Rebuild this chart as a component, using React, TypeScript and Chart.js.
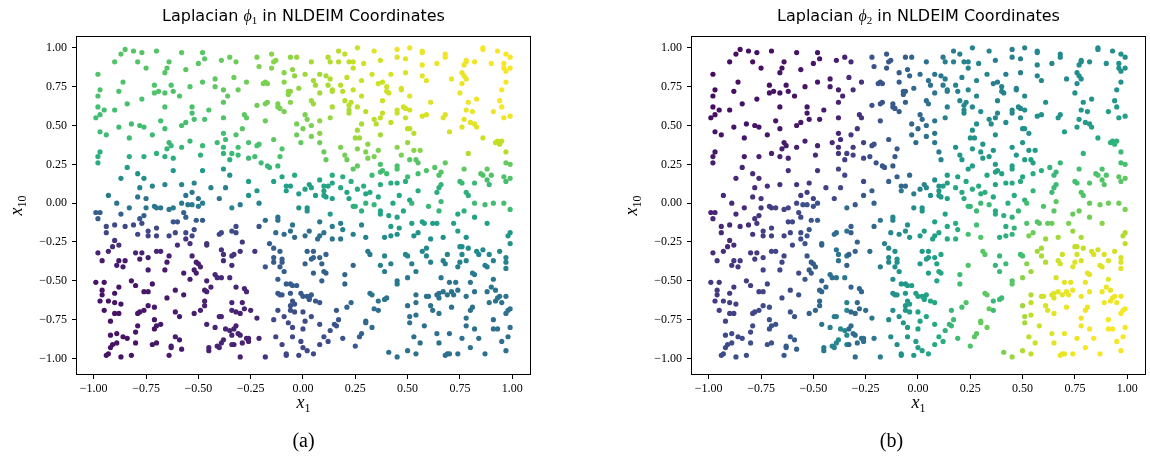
import React, { useEffect, useRef } from "react";
import { Chart, registerables } from "chart.js";

Chart.register(...registerables);

// Each sample: [x1, x10, phi1, phi2]; the eigenvector values are scaled to [0, 1].
const NORTH_WEST: number[][] = [
  [-0.85,0.99,.73,.04],[-0.87,0.96,.73,.04],[-0.81,0.98,.73,.04],[-0.77,0.97,.73,.04],[-0.70,0.98,.73,.04],[-0.58,0.97,.74,.05],[-0.48,0.97,.74,.06],[-0.47,0.93,.74,.06],[-0.90,0.91,.73,.04],[-0.79,0.91,.73,.04],[-0.64,0.91,.73,.05],[-0.65,0.87,.73,.05],[-0.66,0.84,.73,.05],[-0.75,0.87,.73,.04],[-0.56,0.86,.74,.05],[-0.50,0.90,.74,.06],[-0.39,0.92,.76,.08],[-0.35,0.94,.77,.09],[-0.98,0.83,.72,.03],[-0.86,0.78,.72,.04],[-0.71,0.76,.72,.04],[-0.63,0.76,.72,.05],[-0.54,0.75,.73,.05],[-0.48,0.78,.73,.06],[-0.42,0.80,.75,.07],[-0.42,0.75,.75,.07],[-0.97,0.73,.71,.03],[-0.98,0.69,.71,.03],[-0.88,0.72,.71,.04],[-0.69,0.72,.72,.05],[-0.71,0.71,.72,.05],[-0.66,0.71,.72,.05],[-0.62,0.72,.72,.05],[-0.59,0.69,.72,.05],[-0.38,0.73,.75,.08],[-0.36,0.69,.75,.09],[-0.38,0.65,.74,.09],[-0.77,0.67,.71,.04],[-0.84,0.64,.70,.04],[-0.98,0.62,.70,.03],[-0.95,0.60,.70,.04],[-0.90,0.60,.70,.04],[-0.66,0.62,.71,.05],[-0.53,0.62,.71,.06],[-0.45,0.60,.72,.07],[-0.38,0.55,.72,.09],[-0.99,0.55,.69,.04],[-0.97,0.57,.69,.04],[-0.53,0.58,.70,.06],[-0.52,0.54,.70,.06],[-0.56,0.52,.70,.06],[-0.47,0.54,.71,.07],[-0.68,0.53,.70,.05],[-0.88,0.49,.69,.05],[-0.82,0.51,.69,.05],[-0.78,0.50,.69,.05],[-0.76,0.49,.69,.05],[-0.58,0.50,.70,.06],[-0.66,0.48,.69,.06],[-0.97,0.46,.68,.05],[-0.94,0.44,.68,.05],[-0.72,0.44,.68,.06],[-0.83,0.42,.68,.06],[-0.38,0.45,.70,.10],[-0.64,0.39,.67,.07],[-0.63,0.37,.67,.07],[-0.65,0.35,.66,.08],[-0.54,0.40,.67,.08],[-0.58,0.36,.66,.08],[-0.48,0.37,.67,.09],[-0.41,0.39,.68,.11],[-0.37,0.41,.69,.12],[-0.38,0.36,.67,.13],[-0.97,0.33,.64,.06],[-0.98,0.30,.63,.07],[-0.98,0.26,.62,.08],[-0.83,0.30,.63,.08],[-0.76,0.30,.63,.09],[-0.70,0.32,.64,.09],[-0.66,0.30,.63,.10],[-0.62,0.29,.63,.10],[-0.49,0.31,.64,.12],[-0.38,0.32,.65,.16],[-0.35,0.28,.63,.18],[-0.84,0.23,.55,.10],[-0.62,0.21,.53,.13],[-0.48,0.21,.53,.16],[-0.38,0.22,.54,.20],[-0.35,0.18,.50,.21],[-0.79,0.19,.50,.12],[-0.76,0.16,.48,.12],[-0.87,0.16,.48,.11],[-0.72,0.11,.45,.13],[-0.66,0.12,.45,.14],[-0.78,0.10,.44,.13],[-0.58,0.12,.45,.16],[-0.52,0.13,.45,.17],[-0.44,0.10,.44,.19],[-0.37,0.10,.44,.21],[-0.93,0.05,.40,.12],[-0.79,0.04,.39,.14],[-0.75,0.03,.38,.15],[-0.56,0.05,.39,.17],[-0.53,0.07,.40,.18],[-0.50,0.03,.38,.19],[-0.40,0.03,.38,.21],
];

const NORTH: number[][] = [
  [-0.32,0.91,.78,.12],[-0.22,0.94,.80,.25],[-0.21,0.88,.80,.25],[-0.15,0.96,.82,.27],[-0.14,0.91,.82,.27],[-0.13,0.92,.82,.27],[-0.15,0.87,.82,.27],[-0.06,0.94,.83,.29],[-0.03,0.94,.84,.33],[0.04,0.91,.86,.36],[0.12,0.94,.88,.40],[0.13,0.91,.88,.42],[0.17,0.91,.89,.43],[0.17,0.98,.89,.42],[0.20,0.96,.90,.43],[0.22,0.91,.90,.44],[0.24,0.91,.91,.44],[0.26,1.00,.92,.44],[0.24,0.87,.91,.44],[0.29,0.90,.93,.45],[0.34,0.98,.95,.45],[0.33,0.83,.93,.45],
  [-0.33,0.81,.77,.12],[-0.27,0.78,.78,.14],[-0.31,0.73,.77,.13],[-0.18,0.78,.80,.26],[-0.17,0.77,.80,.26],[-0.19,0.77,.80,.25],[-0.09,0.84,.82,.29],[-0.09,0.78,.82,.29],[-0.05,0.86,.83,.31],[-0.04,0.82,.83,.33],[-0.02,0.74,.83,.34],[0.01,0.83,.85,.35],[0.08,0.83,.86,.38],[0.11,0.82,.87,.40],[0.13,0.80,.88,.42],[0.05,0.79,.86,.37],[0.06,0.76,.86,.37],[0.12,0.76,.87,.41],[0.14,0.73,.88,.43],[0.18,0.76,.89,.44],[0.19,0.72,.89,.44],[0.21,0.81,.90,.44],[0.24,0.73,.91,.45],[0.28,0.79,.92,.45],
  [-0.07,0.72,.83,.30],[-0.06,0.72,.83,.30],[-0.07,0.70,.82,.30],[0.04,0.66,.85,.36],[0.05,0.64,.85,.37],[0.08,0.71,.86,.38],[0.14,0.72,.88,.43],[0.20,0.66,.89,.45],[0.22,0.63,.89,.46],[0.23,0.65,.90,.46],[0.26,0.62,.90,.47],[0.28,0.69,.91,.46],[0.22,0.60,.87,.47],[0.22,0.58,.87,.47],
  [-0.22,0.63,.78,.24],[-0.18,0.64,.79,.26],[-0.17,0.65,.79,.26],[-0.12,0.64,.80,.28],[-0.12,0.62,.80,.28],[-0.11,0.61,.80,.28],[-0.09,0.59,.79,.29],[-0.28,0.57,.75,.14],[-0.27,0.55,.75,.15],[-0.18,0.53,.77,.25],[-0.06,0.65,.82,.30],[0.01,0.57,.80,.34],[0.02,0.54,.80,.35],[0.04,0.50,.80,.36],[-0.03,0.51,.79,.32],[0.00,0.48,.79,.34],[0.14,0.62,.87,.43],[0.13,0.55,.84,.44],[0.08,0.53,.83,.39],
  [0.30,0.59,.89,.48],[0.28,0.51,.87,.49],[0.26,0.47,.86,.50],[0.25,0.42,.85,.51],[0.27,0.42,.85,.51],[0.34,0.54,.89,.49],[-0.03,0.44,.77,.33],[0.04,0.43,.80,.37],[0.08,0.45,.82,.39],[-0.01,0.39,.75,.34],[0.08,0.39,.78,.40],[-0.32,0.44,.72,.15],[-0.29,0.48,.73,.15],[-0.14,0.41,.74,.27],[-0.31,0.36,.70,.17],[-0.26,0.39,.71,.19],[-0.22,0.37,.71,.23],[-0.21,0.38,.71,.24],
  [-0.34,0.32,.68,.18],[-0.31,0.31,.68,.19],[-0.26,0.29,.68,.21],[-0.23,0.30,.69,.24],[-0.10,0.35,.72,.29],[-0.11,0.30,.71,.29],[0.10,0.33,.77,.42],[0.11,0.28,.76,.44],[0.18,0.36,.80,.50],[0.20,0.31,.79,.52],[0.21,0.28,.78,.53],[0.26,0.35,.81,.52],[0.31,0.38,.83,.52],[0.30,0.33,.81,.53],[0.31,0.29,.80,.54],[0.34,0.30,.80,.54],[0.26,0.24,.76,.55],[0.24,0.22,.74,.55],
  [-0.20,0.26,.68,.25],[-0.17,0.24,.67,.26],[-0.16,0.23,.66,.27],[-0.12,0.24,.67,.28],[-0.10,0.17,.60,.30],[-0.04,0.18,.61,.34],[-0.26,0.14,.56,.22],[-0.14,0.14,.57,.31],[-0.08,0.11,.56,.33],[-0.06,0.11,.56,.34],[0.03,0.12,.57,.45],[0.04,0.10,.57,.46],[0.01,0.09,.56,.44],[-0.02,0.06,.55,.42],[0.08,0.15,.60,.48],[0.10,0.11,.58,.50],[0.14,0.18,.62,.55],[0.19,0.17,.63,.57],[0.14,0.13,.60,.57],[0.12,0.11,.59,.55],[0.18,0.10,.60,.60],[0.10,0.08,.57,.52],[0.10,0.05,.56,.53],[0.11,0.04,.56,.54],[0.21,0.07,.60,.61],[0.23,0.14,.63,.60],[0.29,0.11,.63,.62],[0.33,0.18,.68,.60],[0.32,0.07,.62,.63],[0.26,0.09,.61,.62],[-0.22,0.08,.52,.30],[-0.26,0.05,.50,.28],[-0.08,0.08,.55,.40],[0.06,0.05,.55,.50],[0.14,0.03,.56,.57],[0.22,0.03,.58,.62],[0.30,0.06,.60,.63],
];

const NORTH_EAST: number[][] = [
  [0.45,0.99,.97,.42],[0.51,1.00,.97,.45],[0.57,0.98,.97,.46],[0.57,0.97,.97,.46],[0.68,0.96,.98,.47],[0.68,0.94,.98,.47],[0.86,1.00,.99,.48],[0.86,0.99,.99,.48],[0.93,0.98,.99,.49],[0.97,0.96,.99,.50],[0.99,0.94,.99,.50],[0.37,0.92,.93,.42],[0.45,0.94,.95,.42],[0.49,0.93,.96,.43],[0.57,0.89,.97,.45],[0.64,0.90,.97,.46],[0.78,0.92,.98,.48],[0.78,0.91,.98,.48],[0.77,0.89,.98,.48],[0.82,0.91,.98,.48],[0.90,0.90,.99,.49],[0.96,0.90,.99,.50],[0.96,0.87,.99,.50],[0.99,0.87,.99,.50],[0.97,0.85,.99,.50],
  [0.42,0.83,.94,.42],[0.49,0.84,.95,.43],[0.57,0.82,.96,.45],[0.59,0.79,.96,.46],[0.71,0.80,.97,.47],[0.76,0.84,.97,.48],[0.77,0.82,.97,.48],[0.76,0.77,.97,.48],[0.78,0.80,.97,.48],[0.97,0.78,.99,.50],[0.95,0.73,.99,.51],[0.36,0.77,.92,.42],[0.38,0.78,.92,.42],[0.40,0.75,.93,.43],[0.40,0.72,.93,.43],[0.41,0.71,.93,.44],[0.47,0.74,.94,.44],[0.47,0.73,.94,.44],[0.51,0.69,.95,.47],[0.38,0.66,.92,.45],[0.75,0.71,.97,.50],[0.79,0.65,.97,.51],[0.83,0.67,.98,.51],[0.94,0.66,.99,.53],[0.95,0.62,.99,.54],
  [0.48,0.62,.93,.47],[0.49,0.61,.93,.47],[0.51,0.60,.93,.48],[0.45,0.60,.92,.47],[0.45,0.58,.92,.47],[0.38,0.58,.91,.46],[0.37,0.55,.91,.47],[0.49,0.55,.92,.48],[0.57,0.56,.94,.50],[0.59,0.57,.94,.50],[0.61,0.65,.95,.50],[0.67,0.55,.95,.51],[0.68,0.57,.95,.51],[0.78,0.60,.97,.53],[0.81,0.59,.97,.53],[0.77,0.54,.96,.54],[0.80,0.52,.96,.55],[0.82,0.51,.96,.55],[0.83,0.49,.96,.56],[0.91,0.59,.98,.55],[0.96,0.55,.98,.56],[0.99,0.56,.98,.57],[0.76,0.49,.95,.55],[0.70,0.46,.93,.55],
  [0.35,0.51,.89,.48],[0.42,0.52,.90,.48],[0.50,0.48,.90,.50],[0.51,0.48,.90,.50],[0.53,0.45,.89,.51],[0.37,0.44,.86,.50],[0.86,0.42,.92,.60],[0.92,0.39,.91,.64],[0.93,0.40,.91,.63],[0.95,0.40,.91,.64],[0.94,0.38,.90,.65],[0.50,0.39,.84,.52],[0.45,0.36,.82,.52],[0.36,0.34,.80,.52],[0.53,0.34,.82,.53],[0.56,0.34,.82,.54],[0.47,0.31,.80,.53],[0.51,0.28,.74,.55],[0.54,0.28,.74,.56],[0.55,0.26,.73,.57],[0.79,0.32,.88,.65],[0.97,0.33,.89,.68],[0.97,0.26,.76,.70],[0.99,0.25,.76,.71],
  [0.37,0.25,.71,.55],[0.38,0.21,.70,.56],[0.40,0.19,.69,.58],[0.37,0.20,.69,.57],[0.45,0.24,.71,.57],[0.45,0.22,.71,.58],[0.50,0.17,.69,.60],[0.55,0.19,.70,.62],[0.59,0.21,.72,.63],[0.63,0.23,.73,.65],[0.66,0.20,.73,.67],[0.65,0.18,.72,.67],[0.68,0.26,.75,.66],[0.77,0.22,.75,.69],[0.75,0.14,.68,.70],[0.76,0.13,.67,.70],[0.88,0.22,.75,.71],[0.85,0.19,.73,.71],[0.86,0.18,.72,.72],[0.90,0.18,.72,.72],[0.88,0.15,.70,.73],[0.89,0.12,.67,.73],[0.96,0.17,.72,.74],[0.99,0.16,.72,.75],[0.97,0.14,.70,.74],
  [0.37,0.12,.62,.58],[0.42,0.13,.62,.60],[0.45,0.13,.62,.61],[0.49,0.14,.63,.62],[0.66,0.12,.65,.68],[0.65,0.10,.64,.68],[0.64,0.07,.62,.68],[0.55,0.08,.61,.65],[0.82,0.13,.67,.72],[0.78,0.07,.64,.72],[0.79,0.05,.63,.72],[0.36,0.04,.60,.60],[0.46,0.05,.60,.62],[0.51,0.02,.60,.64],
];

const SOUTH_WEST: number[][] = [
  [-0.89,0.00,.38,.12],[-0.83,-0.03,.38,.12],[-0.75,-0.03,.39,.16],[-0.71,-0.02,.39,.18],[-0.70,-0.03,.39,.18],[-0.68,-0.03,.40,.19],[-0.64,-0.04,.40,.19],[-0.62,-0.03,.40,.20],[-0.58,0.00,.41,.21],[-0.55,-0.01,.41,.24],[-0.53,-0.01,.42,.25],[-0.50,-0.02,.42,.26],[-0.48,0.00,.43,.26],[-0.34,-0.03,.46,.36],
  [-0.99,-0.06,.30,.10],[-0.97,-0.06,.30,.10],[-0.98,-0.10,.29,.11],[-0.87,-0.07,.30,.12],[-0.76,-0.08,.30,.15],[-0.77,-0.13,.23,.15],[-0.78,-0.10,.28,.15],[-0.57,-0.06,.31,.22],[-0.56,-0.09,.30,.22],[-0.62,-0.12,.26,.20],[-0.60,-0.12,.26,.21],[-0.51,-0.11,.28,.27],[-0.48,-0.11,.28,.28],
  [-0.94,-0.15,.22,.11],[-0.90,-0.14,.22,.11],[-0.94,-0.19,.21,.11],[-0.85,-0.15,.22,.12],[-0.81,-0.14,.22,.13],[-0.79,-0.20,.21,.14],[-0.74,-0.18,.21,.18],[-0.70,-0.16,.22,.19],[-0.74,-0.21,.20,.18],[-0.70,-0.21,.20,.19],[-0.64,-0.21,.21,.20],[-0.61,-0.19,.22,.21],[-0.56,-0.19,.22,.23],[-0.56,-0.23,.16,.23],[-0.52,-0.17,.23,.27],[-0.53,-0.21,.21,.27],[-0.54,-0.26,.14,.26],[-0.60,-0.27,.13,.21],[-0.39,-0.19,.22,.36],[-0.40,-0.20,.21,.36],[-0.34,-0.18,.24,.38],
  [-0.90,-0.24,.14,.12],[-0.91,-0.28,.13,.12],[-0.88,-0.27,.13,.12],[-0.98,-0.32,.10,.13],[-0.93,-0.31,.10,.14],[-0.96,-0.37,.07,.15],[-0.88,-0.37,.07,.16],[-0.89,-0.40,.07,.16],[-0.85,-0.37,.07,.16],[-0.86,-0.41,.07,.16],[-0.80,-0.32,.10,.16],[-0.77,-0.32,.10,.17],[-0.78,-0.36,.08,.17],[-0.74,-0.35,.08,.19],[-0.74,-0.43,.07,.19],[-0.70,-0.31,.10,.20],[-0.68,-0.31,.10,.20],[-0.64,-0.34,.09,.21],[-0.65,-0.38,.07,.21],[-0.66,-0.43,.07,.21],[-0.57,-0.45,.07,.23],[-0.53,-0.34,.10,.27],[-0.51,-0.38,.08,.28],[-0.50,-0.39,.08,.28],[-0.52,-0.43,.08,.28],[-0.51,-0.45,.08,.28],[-0.49,-0.41,.09,.29],[-0.46,-0.26,.14,.31],[-0.46,-0.27,.14,.31],[-0.39,-0.30,.14,.37],[-0.38,-0.33,.13,.38],[-0.34,-0.34,.14,.40],[-0.38,-0.37,.12,.38],[-0.42,-0.46,.11,.36],[-0.41,-0.48,.11,.37],[-0.39,-0.48,.11,.38],[-0.35,-0.48,.12,.40],
  [-0.99,-0.51,.05,.16],[-0.95,-0.51,.05,.16],[-0.96,-0.56,.05,.17],[-0.96,-0.59,.05,.17],[-0.90,-0.58,.05,.17],[-0.88,-0.54,.05,.17],[-0.82,-0.50,.06,.18],[-0.80,-0.53,.06,.18],[-0.76,-0.57,.06,.19],[-0.74,-0.57,.06,.20],[-0.72,-0.52,.06,.20],[-0.65,-0.61,.06,.23],[-0.61,-0.56,.07,.22],[-0.57,-0.59,.07,.24],[-0.54,-0.49,.08,.27],[-0.46,-0.50,.09,.31],[-0.47,-0.56,.09,.31],[-0.44,-0.54,.10,.33],[-0.46,-0.57,.09,.32],
  [-0.97,-0.63,.05,.17],[-0.93,-0.63,.05,.18],[-0.95,-0.69,.05,.18],[-0.90,-0.64,.05,.18],[-0.87,-0.65,.05,.19],[-0.90,-0.71,.05,.19],[-0.88,-0.71,.05,.19],[-0.79,-0.71,.06,.21],[-0.78,-0.70,.06,.21],[-0.76,-0.69,.06,.22],[-0.74,-0.66,.06,.23],[-0.71,-0.67,.06,.24],[-0.61,-0.70,.07,.26],[-0.59,-0.73,.07,.27],[-0.52,-0.71,.08,.31],[-0.47,-0.63,.09,.33],[-0.47,-0.66,.09,.34],[-0.49,-0.69,.09,.33],[-0.34,-0.64,.11,.44],[-0.40,-0.73,.10,.42],[-0.39,-0.73,.10,.43],[-0.34,-0.69,.11,.45],
  [-0.92,-0.76,.05,.20],[-0.92,-0.85,.05,.22],[-0.89,-0.84,.05,.22],[-0.86,-0.86,.05,.22],[-0.84,-0.87,.05,.23],[-0.80,-0.83,.05,.23],[-0.79,-0.79,.06,.23],[-0.71,-0.75,.06,.25],[-0.71,-0.81,.06,.26],[-0.70,-0.79,.06,.26],[-0.68,-0.78,.06,.26],[-0.61,-0.86,.07,.28],[-0.59,-0.88,.07,.29],[-0.46,-0.78,.09,.38],[-0.42,-0.80,.10,.42],[-0.37,-0.81,.10,.46],[-0.35,-0.82,.11,.47],[-0.34,-0.85,.11,.48],
  [-0.91,-0.91,.05,.23],[-0.92,-0.93,.05,.23],[-0.89,-0.90,.05,.23],[-0.80,-0.90,.05,.24],[-0.72,-0.91,.06,.26],[-0.70,-0.90,.06,.26],[-0.63,-0.92,.07,.28],[-0.63,-0.93,.07,.28],[-0.58,-0.94,.07,.30],[-0.64,-0.98,.07,.28],[-0.45,-0.93,.09,.40],[-0.45,-0.95,.09,.40],[-0.41,-0.92,.10,.44],[-0.39,-0.90,.10,.46],[-0.38,-0.88,.10,.47],[-0.40,-0.93,.10,.44],[-0.34,-0.91,.11,.49],[-0.93,-0.97,.05,.23],[-0.94,-0.98,.05,.23],[-0.87,-0.99,.05,.24],[-0.82,-0.98,.05,.24],
];

const SOUTH: number[][] = [
  [-0.30,-0.01,.42,.27],[-0.21,0.00,.44,.32],[-0.02,-0.03,.50,.48],[0.02,-0.03,.52,.52],[0.02,-0.05,.52,.52],[0.13,-0.07,.56,.58],[0.24,-0.02,.64,.66],[0.25,-0.02,.64,.66],[0.28,-0.05,.64,.68],[0.30,0.00,.65,.68],[0.34,-0.01,.66,.68],
  [-0.18,-0.11,.36,.40],[-0.12,-0.09,.38,.45],[-0.12,-0.11,.37,.45],[-0.05,-0.14,.38,.50],[0.08,-0.12,.40,.56],[0.14,-0.15,.42,.60],[0.18,-0.13,.43,.62],[0.19,-0.17,.42,.63],[-0.21,-0.15,.25,.33],[-0.32,-0.15,.22,.30],[-0.32,-0.19,.21,.30],[-0.13,-0.19,.35,.46],[-0.09,-0.20,.35,.48],[-0.06,-0.18,.36,.50],[-0.04,-0.22,.34,.52],[0.01,-0.21,.35,.54],[0.03,-0.18,.36,.55],[0.08,-0.21,.37,.57],[0.07,-0.23,.36,.57],[0.10,-0.19,.38,.58],[0.14,-0.23,.38,.61],[0.18,-0.23,.40,.64],[0.24,-0.20,.43,.70],[0.28,-0.14,.45,.70],[0.30,-0.22,.44,.72],
  [-0.29,-0.25,.16,.31],[-0.16,-0.26,.30,.45],[-0.14,-0.29,.30,.47],[-0.11,-0.31,.30,.48],[-0.23,-0.31,.15,.35],[-0.30,-0.31,.14,.31],[-0.33,-0.33,.14,.31],[-0.34,-0.40,.12,.31],[-0.14,-0.35,.29,.47],[-0.14,-0.38,.29,.47],[-0.10,-0.36,.29,.49],[-0.10,-0.38,.29,.49],[-0.11,-0.41,.29,.49],[-0.09,-0.44,.29,.50],[-0.18,-0.41,.27,.42],
  [0.02,-0.31,.31,.54],[0.05,-0.31,.31,.55],[0.05,-0.35,.31,.56],[0.08,-0.35,.31,.57],[0.04,-0.36,.31,.55],[0.01,-0.39,.30,.54],[0.11,-0.33,.32,.60],[0.09,-0.39,.31,.58],[0.10,-0.44,.31,.59],[0.11,-0.45,.31,.60],[0.05,-0.45,.30,.56],[0.20,-0.46,.32,.68],[0.20,-0.52,.32,.69],[0.24,-0.40,.33,.72],[0.31,-0.31,.40,.74],[0.32,-0.33,.40,.74],
  [-0.32,-0.54,.10,.31],[-0.28,-0.55,.10,.33],[-0.27,-0.57,.10,.33],[-0.12,-0.49,.29,.48],[-0.08,-0.52,.29,.52],[-0.06,-0.52,.29,.53],[-0.05,-0.53,.29,.54],[-0.03,-0.53,.29,.55],[0.09,-0.50,.30,.59],[-0.12,-0.58,.27,.49],[-0.11,-0.59,.27,.50],[-0.10,-0.59,.27,.51],[-0.06,-0.58,.28,.53],[-0.01,-0.58,.28,.56],[0.00,-0.60,.28,.57],[0.02,-0.60,.28,.58],[0.03,-0.61,.28,.58],[0.04,-0.59,.28,.58],[0.03,-0.62,.27,.58],[0.06,-0.63,.27,.59],[0.08,-0.64,.27,.60],[-0.05,-0.63,.26,.54],[-0.06,-0.66,.25,.53],[-0.04,-0.65,.25,.55],[-0.06,-0.69,.24,.53],
  [-0.29,-0.64,.09,.34],[-0.28,-0.68,.09,.34],[-0.32,-0.70,.09,.33],[-0.30,-0.71,.09,.34],[-0.25,-0.69,.10,.36],[-0.12,-0.69,.23,.49],[-0.04,-0.70,.24,.55],[0.00,-0.70,.24,.57],[0.04,-0.73,.24,.59],[0.16,-0.69,.28,.66],[0.23,-0.64,.33,.72],[0.21,-0.67,.32,.70],[0.32,-0.58,.38,.74],[0.33,-0.59,.38,.75],[0.34,-0.68,.37,.76],
  [-0.22,-0.74,.10,.38],[-0.14,-0.75,.22,.46],[-0.09,-0.73,.23,.50],[-0.07,-0.77,.22,.52],[0.01,-0.76,.23,.57],[0.08,-0.78,.24,.61],[0.17,-0.75,.27,.68],[0.16,-0.79,.26,.67],[0.15,-0.78,.26,.66],[0.30,-0.76,.34,.76],[0.30,-0.77,.34,.76],[0.33,-0.80,.35,.78],
  [-0.32,-0.79,.09,.34],[-0.33,-0.81,.09,.34],[-0.31,-0.84,.09,.35],[-0.30,-0.85,.09,.35],[-0.27,-0.87,.09,.37],[-0.26,-0.87,.09,.37],[-0.21,-0.87,.10,.40],[-0.13,-0.86,.21,.47],[-0.05,-0.80,.22,.53],[-0.05,-0.86,.22,.53],[0.00,-0.81,.23,.56],[0.13,-0.82,.25,.64],[0.10,-0.86,.24,.62],[0.27,-0.86,.30,.74],[0.28,-0.84,.31,.74],
  [-0.33,-0.91,.09,.35],[-0.29,-0.90,.09,.36],[-0.26,-0.89,.09,.37],[-0.10,-0.91,.20,.49],[-0.01,-0.89,.21,.55],[0.00,-0.93,.21,.56],[0.02,-0.95,.21,.57],[0.05,-0.97,.22,.59],[0.08,-0.91,.22,.61],[0.12,-0.89,.23,.63],[0.19,-0.87,.26,.68],[0.25,-0.92,.28,.72],[-0.30,-0.99,.09,.36],[-0.18,-0.99,.14,.42],[-0.08,-0.98,.20,.50],[-0.08,-0.97,.20,.50],[-0.02,-0.98,.20,.54],
];

const SOUTH_EAST: number[][] = [
  [0.37,-0.05,.60,.62],[0.37,-0.07,.58,.62],[0.43,0.00,.60,.63],[0.52,0.00,.66,.70],[0.60,-0.02,.67,.72],[0.66,0.01,.68,.74],[0.82,0.00,.69,.76],[0.87,-0.01,.69,.77],[0.91,0.00,.69,.78],[0.96,0.00,.70,.78],[0.99,-0.04,.69,.80],[0.65,-0.05,.66,.74],[0.74,-0.07,.60,.76],[0.77,-0.05,.64,.77],[0.82,-0.09,.58,.78],[0.88,-0.13,.57,.82],[0.41,-0.08,.57,.63],[0.45,-0.09,.57,.64],[0.48,-0.05,.60,.66],
  [0.42,-0.15,.55,.63],[0.46,-0.16,.55,.65],[0.52,-0.13,.56,.72],[0.57,-0.12,.56,.73],[0.58,-0.13,.56,.74],[0.62,-0.13,.56,.76],[0.64,-0.13,.56,.77],[0.72,-0.13,.57,.80],[0.74,-0.18,.55,.84],[0.39,-0.22,.48,.63],[0.42,-0.21,.49,.64],[0.45,-0.20,.50,.65],[0.53,-0.21,.50,.80],[0.55,-0.19,.51,.78],[0.61,-0.23,.49,.85],[0.67,-0.22,.50,.86],[0.78,-0.22,.50,.87],[0.99,-0.19,.53,.88],[0.98,-0.21,.52,.88],[0.99,-0.26,.50,.90],
  [0.57,-0.31,.47,.86],[0.59,-0.29,.47,.86],[0.59,-0.34,.46,.87],[0.49,-0.33,.46,.68],[0.50,-0.34,.46,.70],[0.69,-0.33,.46,.92],[0.75,-0.28,.48,.90],[0.76,-0.28,.48,.90],[0.79,-0.29,.48,.91],[0.83,-0.31,.47,.93],[0.84,-0.33,.46,.94],[0.86,-0.30,.47,.93],[0.76,-0.33,.46,.93],[0.78,-0.37,.44,.94],[0.89,-0.33,.46,.94],[0.94,-0.31,.47,.93],[0.97,-0.35,.45,.94],[0.97,-0.38,.44,.95],
  [0.37,-0.40,.43,.66],[0.39,-0.34,.45,.66],[0.42,-0.39,.43,.68],[0.39,-0.44,.42,.68],[0.52,-0.39,.43,.82],[0.54,-0.44,.42,.85],[0.61,-0.38,.43,.88],[0.67,-0.37,.43,.92],[0.68,-0.39,.43,.93],[0.74,-0.41,.42,.95],[0.75,-0.38,.43,.95],[0.81,-0.45,.42,.96],[0.82,-0.46,.41,.96],[0.87,-0.40,.43,.95],[0.91,-0.37,.44,.95],[0.88,-0.41,.43,.95],[0.97,-0.42,.43,.96],
  [0.45,-0.50,.40,.72],[0.45,-0.52,.40,.74],[0.50,-0.48,.40,.82],[0.66,-0.48,.40,.94],[0.70,-0.51,.39,.96],[0.73,-0.51,.39,.96],[0.80,-0.51,.39,.97],[0.91,-0.49,.40,.96],[0.90,-0.54,.39,.97],[0.92,-0.56,.39,.97],[0.92,-0.63,.38,.98],[0.40,-0.61,.38,.68],[0.39,-0.62,.38,.68],[0.36,-0.63,.37,.66],
  [0.54,-0.59,.38,.88],[0.59,-0.60,.38,.92],[0.60,-0.60,.38,.93],[0.64,-0.59,.38,.94],[0.65,-0.58,.38,.95],[0.67,-0.57,.38,.96],[0.65,-0.61,.38,.95],[0.69,-0.59,.38,.96],[0.71,-0.57,.38,.97],[0.72,-0.59,.38,.97],[0.74,-0.56,.38,.97],[0.78,-0.60,.38,.98],[0.82,-0.57,.38,.98],[0.88,-0.57,.38,.98],[0.89,-0.64,.38,.98],[0.93,-0.61,.38,.98],[0.94,-0.60,.38,.98],[0.97,-0.60,.38,.98],[0.95,-0.64,.38,.98],
  [0.36,-0.69,.36,.68],[0.50,-0.66,.37,.85],[0.54,-0.64,.37,.90],[0.61,-0.66,.37,.94],[0.62,-0.69,.37,.95],[0.65,-0.71,.37,.96],[0.71,-0.67,.37,.97],[0.80,-0.69,.37,.98],[0.81,-0.67,.37,.98],[0.91,-0.75,.37,.99],[0.97,-0.71,.37,.99],[0.98,-0.69,.37,.99],[0.99,-0.68,.37,.99],
  [0.51,-0.73,.37,.86],[0.54,-0.72,.37,.90],[0.51,-0.77,.37,.86],[0.58,-0.79,.37,.92],[0.78,-0.74,.37,.98],[0.78,-0.79,.37,.98],[0.82,-0.81,.37,.99],[0.91,-0.81,.37,.99],[0.93,-0.81,.37,.99],[0.99,-0.80,.37,.99],
  [0.53,-0.86,.37,.90],[0.64,-0.84,.37,.95],[0.70,-0.84,.37,.97],[0.76,-0.87,.37,.98],[0.84,-0.87,.37,.99],[0.95,-0.89,.37,.99],[0.98,-0.86,.37,.99],[0.56,-0.90,.37,.92],[0.65,-0.90,.37,.96],[0.80,-0.93,.37,.99],[0.87,-0.97,.37,.99],[0.97,-0.95,.37,.99],[0.41,-0.96,.37,.80],[0.45,-0.99,.37,.84],[0.50,-0.95,.37,.88],[0.54,-0.97,.37,.90],[0.68,-0.98,.37,.97],[0.69,-0.97,.37,.97],[0.70,-0.97,.37,.97],[0.74,-0.97,.37,.98],
];

const SAMPLES = [...NORTH_WEST, ...NORTH, ...NORTH_EAST, ...SOUTH_WEST, ...SOUTH, ...SOUTH_EAST];

const TICK_VALUES = [-1, -0.75, -0.5, -0.25, 0, 0.25, 0.5, 0.75, 1];
const TICK_LABELS = ["\u22121.00", "\u22120.75", "\u22120.50", "\u22120.25", "0.00", "0.25", "0.50", "0.75", "1.00"];

const TITLE_WORD = "Laplacian";
const TITLE_SYMBOL = "\u03d5";
const TITLE_REST = "in NLDEIM Coordinates";
const X_LABEL = { base: "x", sub: "1" };
const Y_LABEL = { base: "x", sub: "10" };

// viridis colour map, sampled at 11 evenly spaced stops
const VIRIDIS = ["#440154", "#482475", "#414487", "#355f8d", "#2a788e", "#21918c", "#22a884", "#44bf70", "#7ad151", "#bddf26", "#fde725"];

function hexToRgb(h: string) {
  return [parseInt(h.slice(1, 3), 16), parseInt(h.slice(3, 5), 16), parseInt(h.slice(5, 7), 16)];
}
const VIRIDIS_RGB = VIRIDIS.map(hexToRgb);

function viridis(t: number) {
  const v = Math.min(1, Math.max(0, t)) * (VIRIDIS_RGB.length - 1);
  const i = Math.min(VIRIDIS_RGB.length - 2, Math.floor(v));
  const f = v - i;
  const a = VIRIDIS_RGB[i];
  const b = VIRIDIS_RGB[i + 1];
  const c = a.map((ch, k) => Math.round(ch + (b[k] - ch) * f));
  return `rgb(${c[0]},${c[1]},${c[2]})`;
}

const CANVAS_W = 575;
const CANVAS_H = 461;
const X_RANGE = [-1.08, 1.085];
const Y_RANGE = [-1.1, 1.07];

const PANELS = [
  { column: 2, sub: "1", caption: "(a)", offset: 0, padLeft: 0, padRight: 45, captionShift: 0 },
  { column: 3, sub: "2", caption: "(b)", offset: 575, padLeft: 40, padRight: 5, captionShift: -27 },
];

type Run = { text: string; font: string; dy?: number };

function drawRuns(ctx: CanvasRenderingContext2D, runs: Run[], cx: number, baseline: number) {
  let total = 0;
  const widths = runs.map((r) => {
    ctx.font = r.font;
    const w = ctx.measureText(r.text).width;
    total += w;
    return w;
  });
  let x = cx - total / 2;
  ctx.textAlign = "left";
  ctx.textBaseline = "alphabetic";
  runs.forEach((r, i) => {
    ctx.font = r.font;
    ctx.fillText(r.text, x, baseline + (r.dy || 0));
    x += widths[i];
  });
}

const SANS = '"DejaVu Sans", sans-serif';
const SERIF = '"Liberation Serif", "DejaVu Serif", serif';

function makeDecorations(sub: string, caption: string, captionShift: number, yLabelX: number) {
  return {
    id: "decorations",
    afterDraw(chart: any) {
      const { ctx, chartArea: a } = chart;
      const cx = (a.left + a.right) / 2;
      ctx.save();
      ctx.strokeStyle = "#000";
      ctx.lineWidth = 1;
      ctx.strokeRect(a.left - 0.5, a.top - 0.5, a.right - a.left + 1, a.bottom - a.top + 1);
      ctx.fillStyle = "#000";
      drawRuns(ctx, [
        { text: TITLE_WORD + " ", font: `16px ${SANS}` },
        { text: TITLE_SYMBOL, font: `italic 16px ${SERIF}` },
        { text: sub, font: `11px ${SERIF}`, dy: 3 },
        { text: " " + TITLE_REST, font: `16px ${SANS}` },
      ], cx, 21);
      drawRuns(ctx, [
        { text: X_LABEL.base, font: `italic 18px ${SERIF}` },
        { text: X_LABEL.sub, font: `12px ${SERIF}`, dy: 4 },
      ], cx, 408);
      ctx.translate(yLabelX, (a.top + a.bottom) / 2);
      ctx.rotate(-Math.PI / 2);
      drawRuns(ctx, [
        { text: Y_LABEL.base, font: `italic 18px ${SERIF}` },
        { text: Y_LABEL.sub, font: `12px ${SERIF}`, dy: 4 },
      ], 0, 4);
      ctx.setTransform(1, 0, 0, 1, 0, 0);
      ctx.font = `20px ${SERIF}`;
      ctx.textAlign = "center";
      ctx.textBaseline = "alphabetic";
      ctx.fillText(caption, cx + captionShift, 447);
      ctx.restore();
    },
  };
}

function axis(range: number[], padding: number, fit: (s: any) => void) {
  return {
    type: "linear" as const,
    min: range[0],
    max: range[1],
    afterBuildTicks: (s: any) => {
      s.ticks = TICK_VALUES.map((v) => ({ value: v }));
    },
    afterFit: fit,
    ticks: {
      autoSkip: false,
      maxRotation: 0,
      color: "#000",
      padding,
      font: { family: SERIF, size: 12 },
      callback: (_v: any, i: number) => TICK_LABELS[i],
    },
    grid: { drawOnChartArea: false, drawTicks: true, tickLength: 5, color: "#000", lineWidth: 1 },
    border: { display: false },
  };
}

function Panel({ panel }: { panel: (typeof PANELS)[number] }) {
  const ref = useRef<HTMLCanvasElement>(null);
  useEffect(() => {
    const points = SAMPLES.map((s) => ({ x: s[0], y: s[1] }));
    const colors = SAMPLES.map((s) => viridis(s[panel.column]));
    const chart = new Chart(ref.current as HTMLCanvasElement, {
      type: "scatter",
      data: {
        datasets: [
          {
            data: points,
            pointBackgroundColor: colors,
            pointBorderWidth: 0,
            pointRadius: 2.6,
            pointHoverRadius: 2.6,
          },
        ],
      },
      options: {
        responsive: false,
        animation: false,
        events: [],
        layout: { padding: { left: panel.padLeft, right: panel.padRight, top: 37, bottom: 0 } },
        plugins: { legend: { display: false }, tooltip: { enabled: false }, title: { display: false } },
        scales: {
          x: axis(X_RANGE, 3, (s: any) => { s.height = 87; }),
          y: axis(Y_RANGE, 5, (s: any) => { s.width = 77; }),
        },
      },
      plugins: [makeDecorations(panel.sub, panel.caption, panel.captionShift, panel.padLeft + 18)],
    } as any);
    return () => chart.destroy();
  }, [panel]);
  return (
    <canvas
      ref={ref}
      width={CANVAS_W}
      height={CANVAS_H}
      style={{ position: "absolute", left: panel.offset, top: 0, width: CANVAS_W, height: CANVAS_H }}
    />
  );
}

export default function App() {
  return (
    <div style={{ position: "fixed", left: 0, top: 0, width: 1150, height: 461, background: "#fff", overflow: "hidden" }}>
      {PANELS.map((p) => (
        <Panel key={p.caption} panel={p} />
      ))}
    </div>
  );
}
